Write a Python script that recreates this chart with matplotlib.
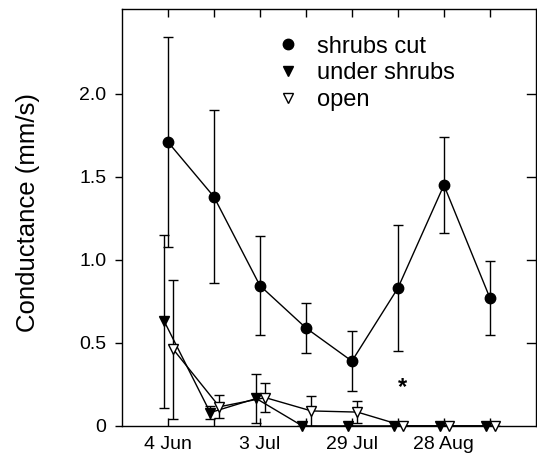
import matplotlib
matplotlib.use("Agg")
import matplotlib.pyplot as plt
from matplotlib.lines import Line2D
import numpy as np

plt.rcParams['font.family'] = ['Liberation Sans', 'DejaVu Sans']

tick_labels = ["4 Jun", "", "3 Jul", "", "29 Jul", "", "28 Aug", ""]
x = np.arange(8)

cut_vals = [1.71, 1.38, 0.845, 0.59, 0.39, 0.83, 1.45, 0.77]
cut_err = [0.63, 0.52, 0.30, 0.15, 0.18, 0.38, 0.29, 0.22]

under_vals = [0.63, 0.08, 0.165, 0.0, 0.0, 0.0, 0.0, 0.0]
under_err = [0.52, 0.04, 0.15, 0.0, 0.0, 0.0, 0.0, 0.0]

open_vals = [0.46, 0.115, 0.17, 0.09, 0.083, 0.0, 0.0, 0.0]
open_err = [0.42, 0.07, 0.087, 0.09, 0.065, 0.0, 0.0, 0.0]

star_x = 5.1
star_y = 0.23

fig = plt.figure(figsize=(5.37, 4.55), dpi=100)
ax = fig.add_axes([0.227, 0.064, 0.771, 0.916])

ekw = dict(ecolor='black', elinewidth=1.0, capsize=3.5, capthick=1.0)

for xs, vals, errs, mfc, z in [(x, cut_vals, cut_err, 'black', 3),
                              (x - 0.08, under_vals, under_err, 'black', 3),
                              (x + 0.12, open_vals, open_err, 'white', 4)]:
    marker = 'o' if xs is x else 'v'
    ms = 7.5 if marker == 'o' else 7
    cont = ax.errorbar(xs, vals, yerr=errs, color='black', lw=1.0, marker=marker,
                       ms=ms, mfc=mfc, mec='black', mew=1.0, zorder=z, **ekw)
    cont.lines[0].set_clip_on(False)

ax.text(star_x, star_y, '*', ha='center', va='center', fontsize=17, fontweight='bold')

ax.set_xlim(-1, 8)
ax.set_ylim(0, 2.51)
ax.set_xticks(x)
ax.set_xticklabels(tick_labels, fontsize=14)
ax.set_yticks([0, 0.5, 1.0, 1.5, 2.0])
ax.set_yticklabels(['0', '0.5', '1.0', '1.5', '2.0'], fontsize=14)
ax.tick_params(axis='x', direction='in', top=True, length=6, width=1, pad=7.5)
ax.tick_params(axis='y', direction='out', right=False, length=5, width=1, pad=6)
for yt in [0.5, 1.0, 1.5, 2.0]:
    ax.plot([7.8, 8.0], [yt, yt], color='black', lw=1, clip_on=False)
for s in ax.spines.values():
    s.set_linewidth(1.0)

ax.set_ylabel('Conductance (mm/s)', fontsize=18.5)
ax.yaxis.set_label_coords(-0.198, 0.513)

handles = [
    Line2D([], [], ls='none', marker='o', ms=7.5, mfc='black', mec='black'),
    Line2D([], [], ls='none', marker='v', ms=6.5, mfc='black', mec='black'),
    Line2D([], [], ls='none', marker='v', ms=6.5, mfc='white', mec='black', mew=1.0),
]
labels = ['shrubs cut', 'under shrubs', 'open']
ax.legend(handles, labels, loc='upper left', bbox_to_anchor=(0.355, 0.959), frameon=False,
          fontsize=17, handlelength=0.8, handletextpad=0.85, labelspacing=0.2,
          borderaxespad=0.0)

fig.savefig('out.png', dpi=100)
